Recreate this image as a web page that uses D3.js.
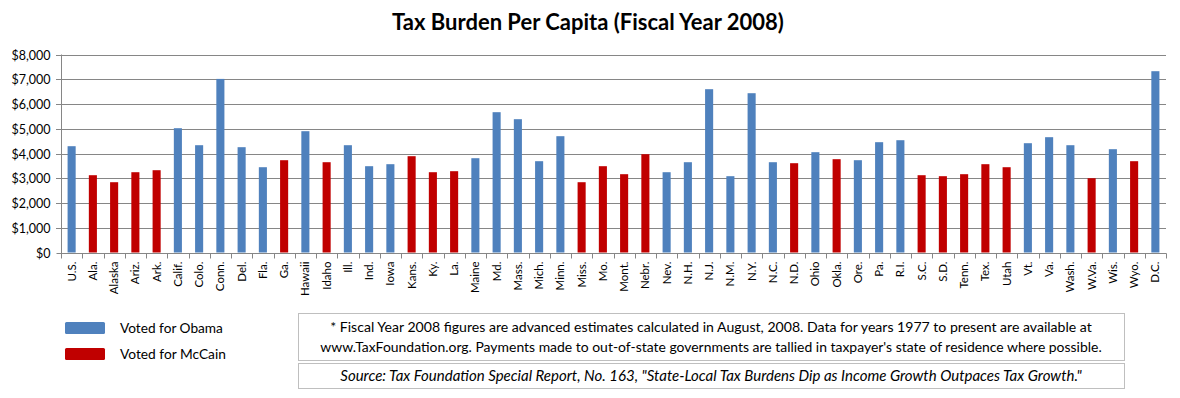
<!DOCTYPE html>
<html><head><meta charset="utf-8">
<script src="https://cdn.jsdelivr.net/npm/d3@7"></script>
<style>body{margin:0;background:#fff}svg{display:block}text{font-family:Lato,"Open Sans",sans-serif}</style>
</head><body>
<script>
const states = ["U.S.","Ala.","Alaska","Ariz.","Ark.","Calif.","Colo.","Conn.","Del.","Fla.","Ga.","Hawaii","Idaho","Ill.","Ind.","Iowa","Kans.","Ky.","La.","Maine","Md.","Mass.","Mich.","Minn.","Miss.","Mo.","Mont.","Nebr.","Nev.","N.H.","N.J.","N.M.","N.Y.","N.C.","N.D.","Ohio","Okla.","Ore.","Pa.","R.I.","S.C.","S.D.","Tenn.","Tex.","Utah","Vt.","Va.","Wash.","W.Va.","Wis.","Wyo.","D.C."];
const taxPerCapita = [4295,3123,2840,3244,3325,5022,4335,7014,4255,3446,3729,4901,3648,4335,3487,3568,3891,3244,3285,3810,5669,5386,3689,4699,2840,3487,3164,3972,3244,3648,6598,3083,6436,3648,3608,4053,3770,3729,4457,4537,3123,3083,3164,3568,3446,4416,4659,4335,3002,4174,3689,7325];
const vote = ["O","M","M","M","M","O","O","O","O","O","M","O","M","O","O","O","M","M","M","O","O","O","O","O","M","M","M","M","O","O","O","O","O","O","M","O","M","O","O","O","M","M","M","M","M","O","O","O","M","O","M","O"];
const yTicks = [0,1000,2000,3000,4000,5000,6000,7000,8000];
const legendLabels = {O:"Voted for Obama", M:"Voted for McCain"};
const titleText = "Tax Burden Per Capita (Fiscal Year 2008)";
const noteLines = ["* Fiscal Year 2008  figures are advanced estimates calculated in August, 2008.  Data for years 1977  to present are available at",
"www.TaxFoundation.org. Payments made to out-of-state governments are tallied in taxpayer's state of residence where possible."];
const sourceText = "Source: Tax Foundation Special Report, No. 163, \"State-Local Tax Burdens Dip as Income Growth Outpaces Tax Growth.\"";

const W=1180,H=398;
const colors={O:"#4F81BD",M:"#C00000"};
const svg=d3.select("body").append("svg").attr("width",W).attr("height",H);
const x=d3.scaleBand().domain(states).range([61,1166]).paddingInner(0.62).paddingOuter(0.31);
const y=d3.scaleLinear().domain([0,8000]).range([252.5,54.5]);

function fit(sel,target){const n=sel.node();const fs=parseFloat(sel.attr("font-size"));const w=n.getComputedTextLength();sel.attr("font-size",fs*target/w);}

// gridlines
svg.append("g").selectAll("line").data(yTicks.slice(1)).join("line")
 .attr("x1",56).attr("x2",1166).attr("y1",d=>Math.round(y(d))+0.5).attr("y2",d=>Math.round(y(d))+0.5)
 .attr("stroke","#868686").attr("stroke-width",1);

// bars
svg.append("g").selectAll("rect").data(states).join("rect")
 .attr("x",d=>x(d)).attr("width",x.bandwidth())
 .attr("y",(d,i)=>y(taxPerCapita[i])).attr("height",(d,i)=>y(0)-y(taxPerCapita[i]))
 .attr("fill",(d,i)=>colors[vote[i]]);

// y axis
const ya=svg.append("g").attr("transform","translate(61.5,0)")
 .call(d3.axisLeft(y).tickValues(yTicks).tickSize(5).tickPadding(6).tickFormat(d=>"$"+d3.format(",")(d)));
ya.select(".domain").attr("stroke","#868686").attr("d","M0,"+y(8000)+"V"+(y(0)+0.5));
ya.selectAll(".tick line").attr("stroke","#868686");
ya.selectAll(".tick").attr("transform",d=>"translate(0,"+(Math.round(y(d))+0.5)+")");
ya.selectAll(".tick text").attr("font-size",12.5).attr("fill","#000").attr("font-family","Lato");

// x axis
const xa=svg.append("g").attr("transform","translate(0,"+(Math.round(y(0))+0.5)+")");
xa.append("line").attr("x1",61).attr("x2",1166.5).attr("stroke","#868686");
const step=x.step();
const bounds=d3.range(states.length+1).map(i=>x.range()[0]+i*step);
xa.selectAll("line.t").data(bounds).join("line").attr("class","t")
 .attr("x1",d=>Math.round(d)+0.5).attr("x2",d=>Math.round(d)+0.5).attr("y1",0).attr("y2",5).attr("stroke","#868686");
xa.selectAll("text").data(states).join("text")
 .attr("transform",d=>"translate("+(x(d)+x.bandwidth()/2+4)+",8) rotate(-90)")
 .attr("text-anchor","end").attr("font-size",11.5).attr("fill","#000").text(d=>d);

// title
const t=svg.append("text").attr("x",588).attr("y",29.5).attr("text-anchor","middle")
 .attr("font-weight","bold").attr("font-size",19).text(titleText);
fit(t,392);

// legend
const lg=svg.append("g");
["O","M"].forEach((k,i)=>{
 lg.append("rect").attr("x",65).attr("y",322+i*26).attr("width",40).attr("height",12).attr("rx",1.5).attr("fill",colors[k]);
 const tx=lg.append("text").attr("x",120).attr("y",333+i*26).attr("font-size",14).text(legendLabels[k]);
 fit(tx,i===0?103:106);
});

// footnote boxes
svg.append("rect").attr("x",298.5).attr("y",313.5).attr("width",826).attr("height",47).attr("fill","none").attr("stroke","#BFBFBF");
svg.append("rect").attr("x",298.5).attr("y",363.5).attr("width",826).attr("height",25).attr("fill","none").attr("stroke","#BFBFBF");
const n1=svg.append("text").attr("x",711).attr("y",332).attr("text-anchor","middle").attr("font-size",13).text(noteLines[0]);
fit(n1,762);
const n2=svg.append("text").attr("x",711).attr("y",352).attr("text-anchor","middle").attr("font-size",13).text(noteLines[1]);
fit(n2,782);
const s=svg.append("text").attr("x",711).attr("y",381).attr("text-anchor","middle").attr("font-size",13).attr("font-style","italic").text(sourceText);
fit(s,742);
</script>
</body></html>
